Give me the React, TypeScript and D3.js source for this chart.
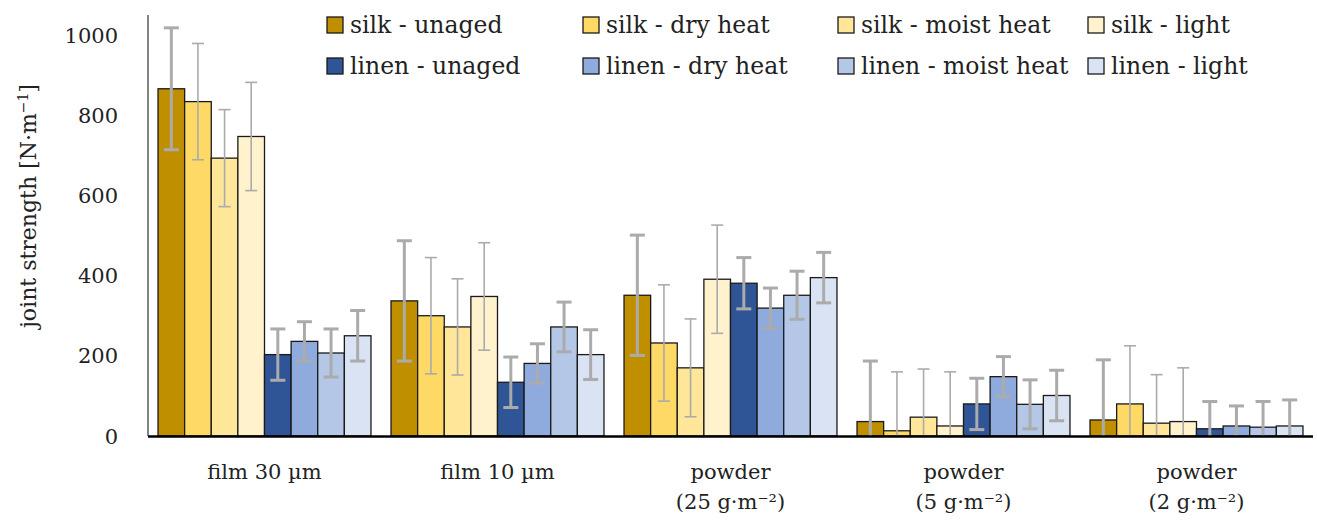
import React from 'react';
import * as d3 from 'd3';

// group labels (each line drawn separately)
const categoryLines = [
  ['film 30 µm'],
  ['film 10 µm'],
  ['powder', '(25 g·m⁻²)'],
  ['powder', '(5 g·m⁻²)'],
  ['powder', '(2 g·m⁻²)'],
];

const seriesNames = [
  'silk - unaged', 'silk - dry heat', 'silk - moist heat', 'silk - light',
  'linen - unaged', 'linen - dry heat', 'linen - moist heat', 'linen - light',
];
const seriesColors = [
  '#bf8f00', '#ffd966', '#ffe699', '#fff2cc',
  '#2f5597', '#8faadc', '#b4c7e7', '#dae3f3',
];

// mean joint strength per category
const silkUnaged = [866, 337, 351, 36, 40];
const silkDry = [834, 300, 232, 13, 80];
const silkMoist = [693, 272, 170, 47, 32];
const silkLight = [747, 348, 391, 25, 36];
const linenUnaged = [203, 134, 381, 80, 18];
const linenDry = [236, 181, 319, 148, 25];
const linenMoist = [207, 272, 351, 79, 22];
const linenLight = [250, 203, 395, 101, 25];

// standard deviations
const silkUnagedErr = [152, 150, 150, 151, 150];
const silkDryErr = [145, 145, 145, 147, 145];
const silkMoistErr = [121, 120, 122, 120, 121];
const silkLightErr = [135, 134, 135, 135, 134];
const linenUnagedErr = [64, 63, 64, 64, 68];
const linenDryErr = [49, 49, 50, 50, 50];
const linenMoistErr = [60, 62, 60, 61, 64];
const linenLightErr = [63, 62, 63, 63, 65];

const yTicks = [0, 200, 400, 600, 800, 1000];

const values = [silkUnaged, silkDry, silkMoist, silkLight, linenUnaged, linenDry, linenMoist, linenLight];
const errors = [silkUnagedErr, silkDryErr, silkMoistErr, silkLightErr, linenUnagedErr, linenDryErr, linenMoistErr, linenLightErr];

const FONT = "'DejaVu Serif', serif";

const App = () => {
  const width = 1317;
  const height = 520;
  const left = 148;
  const right = 1313;
  const top = 15;
  const bottom = 436;

  const y = d3.scaleLinear().domain([0, 1050]).range([bottom, top]);
  const x0 = d3.scaleBand<number>()
    .domain(d3.range(categoryLines.length))
    .range([left, right])
    .paddingInner(0.086)
    .paddingOuter(0.043);
  const x1 = d3.scaleBand<number>()
    .domain(d3.range(seriesNames.length))
    .range([0, x0.bandwidth()])
    .padding(0);

  // thick error bars for silk-unaged and all linen series
  const thickErr = (s: number) => s === 0 || s >= 4;

  return (
    <svg width={width} height={height} style={{ position: 'absolute', left: 0, top: 0, background: '#fff' }}>
      {/* bars */}
      {categoryLines.map((_, c) => (
        <g key={c} transform={`translate(${x0(c)},0)`}>
          {values.map((vals, s) => (
            <rect
              key={s}
              x={x1(s)}
              y={y(vals[c])}
              width={x1.bandwidth()}
              height={y(0) - y(vals[c])}
              fill={seriesColors[s]}
              stroke="#1a1a1a"
              strokeWidth={1.3}
            />
          ))}
        </g>
      ))}

      {/* error bars */}
      {categoryLines.map((_, c) => (
        <g key={'e' + c} transform={`translate(${x0(c)},0)`}>
          {values.map((vals, s) => {
            const cx = (x1(s) as number) + x1.bandwidth() / 2;
            const hi = vals[c] + errors[s][c];
            const lo = vals[c] - errors[s][c];
            const sw = thickErr(s) ? 3 : 1.6;
            const cap = thickErr(s) ? 7.5 : 6;
            return (
              <g key={s} stroke="#ababab" strokeWidth={sw}>
                <line x1={cx} x2={cx} y1={y(hi)} y2={y(Math.max(lo, 0))} />
                <line x1={cx - cap} x2={cx + cap} y1={y(hi)} y2={y(hi)} />
                {lo > 0 && <line x1={cx - cap} x2={cx + cap} y1={y(lo)} y2={y(lo)} />}
              </g>
            );
          })}
        </g>
      ))}

      {/* axes */}
      <line x1={left} x2={left} y1={top} y2={bottom} stroke="#404040" strokeWidth={1.3} />
      <line x1={left} x2={right} y1={y(0) + 0.5} y2={y(0) + 0.5} stroke="#000" strokeWidth={2.5} />

      {yTicks.map((t) => (
        <text key={t} x={118} y={y(t)} dy="0.36em" textAnchor="end" fontFamily={FONT} fontSize={21} fill="#222">
          {t}
        </text>
      ))}

      {categoryLines.map((lines, c) => (
        <text key={'l' + c} x={(x0(c) as number) + x0.bandwidth() / 2} y={479} textAnchor="middle" fontFamily={FONT} fontSize={21} fill="#222">
          {lines.map((ln, i) => (
            <tspan key={i} x={(x0(c) as number) + x0.bandwidth() / 2} dy={i === 0 ? 0 : 30}>{ln}</tspan>
          ))}
        </text>
      ))}

      <text transform="translate(36,206) rotate(-90)" textAnchor="middle" fontFamily={FONT} fontSize={22} fill="#222">
        joint strength [N·m<tspan dy="-8" fontSize={14}>−1</tspan><tspan dy="8">]</tspan>
      </text>

      {/* legend */}
      {seriesNames.map((name, s) => {
        const colX = [327, 583, 838, 1088][s % 4];
        const rowY = [25, 66][Math.floor(s / 4)];
        return (
          <g key={name} transform={`translate(${colX},${rowY})`}>
            <rect x={0} y={-8} width={16} height={16} fill={seriesColors[s]} stroke="#1a1a1a" strokeWidth={1.3} />
            <text x={23} y={0} dy="0.36em" fontFamily={FONT} fontSize={23.5} fill="#222">{name}</text>
          </g>
        );
      })}
    </svg>
  );
};

export default App;
